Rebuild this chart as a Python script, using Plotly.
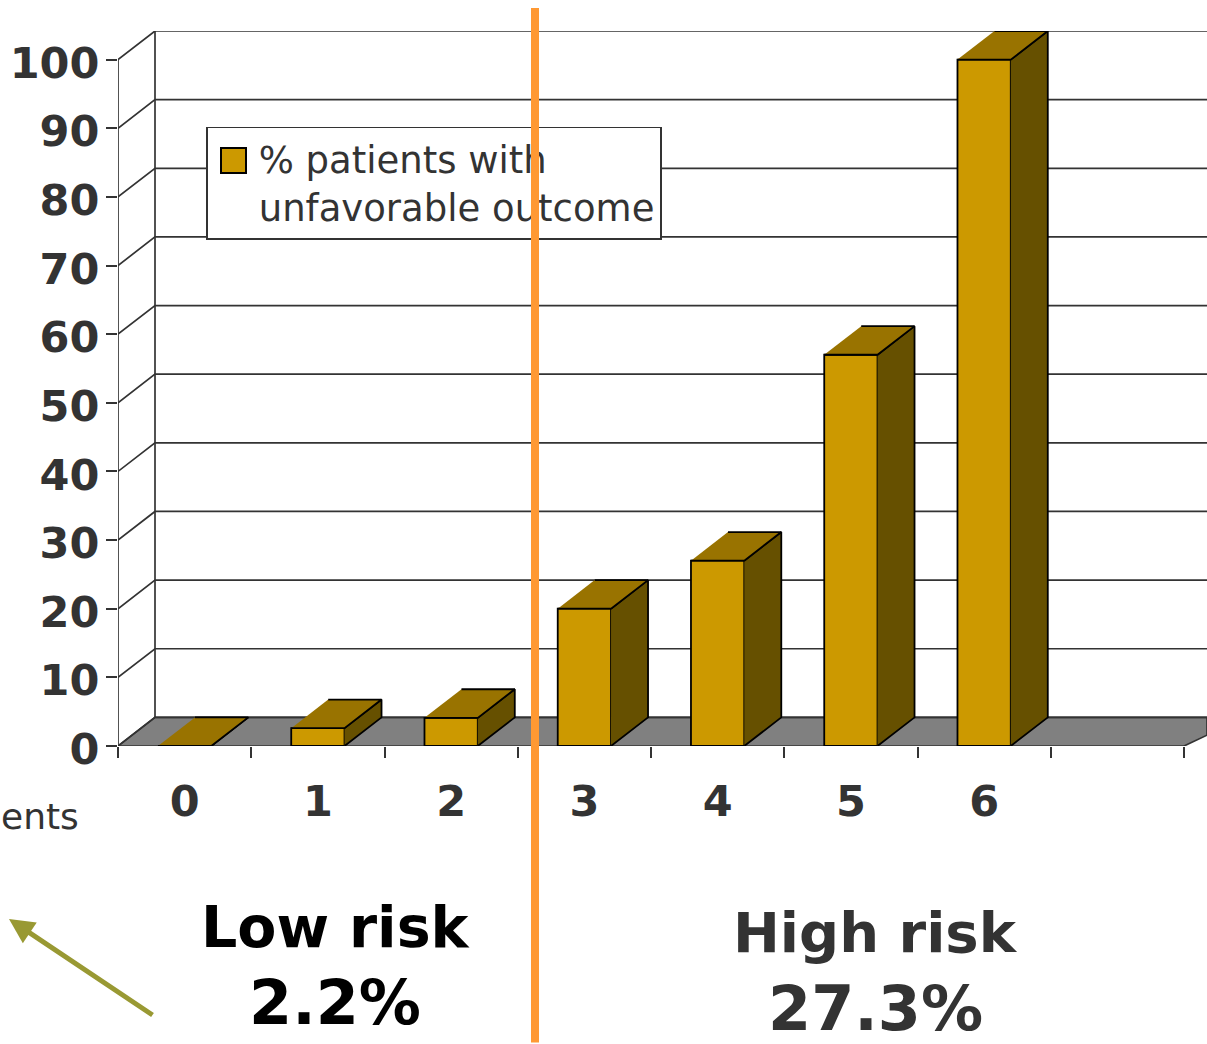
import plotly.graph_objects as go

# Data
categories = [0, 1, 2, 3, 4, 5, 6]
values = [0, 2.6, 4.1, 20, 27, 57, 100]
y_ticks = list(range(0, 101, 10))
series_name = "% patients with<br>unfavorable outcome"

FRONT, TOP, SIDE = "#CC9900", "#997300", "#665000"
INK = "#333333"
W, H = 1207, 1044
X0, X_UNIT = 118, 133.25   # pixel of axis start, pixels per category
Y0, Y_UNIT = 746, 6.86     # pixel of value 0, pixels per value unit
DX = 37 / X_UNIT           # depth offset in data units
DY = 28.6 / Y_UNIT
BAR = 0.4

x_lo = -0.5
x_hi = x_lo + (W - X0) / X_UNIT
y_top = 100 + DY
x_end = x_lo + 8

fig = go.Figure()

def poly(xs, ys, fill, line="black", lw=1.8, over=True):
    fig.add_trace(go.Scatter(x=xs, y=ys, mode="lines", fill="toself", fillcolor=fill,
                             line=dict(color=line, width=lw), showlegend=False, hoverinfo="skip",
                             cliponaxis=False,
                             xaxis="x2" if over else "x", yaxis="y2" if over else "y"))

def seg(xs, ys):
    fig.add_trace(go.Scatter(x=xs, y=ys, mode="lines", line=dict(color=INK, width=1.7),
                             showlegend=False, hoverinfo="skip", cliponaxis=False))

# Floor
poly([x_lo, x_lo + DX, x_hi, x_hi, x_end],
     [0, DY, DY, DY - (x_hi - x_end) / DX * DY, 0], "#808080", INK, 1.7, over=False)

# Walls and gridlines
for v in y_ticks:
    seg([x_lo, x_lo + DX, x_hi], [v, v + DY, v + DY])
seg([x_lo + DX, x_lo + DX], [DY, 100 + DY])
seg([x_lo, x_lo], [0, 100])
seg([x_lo, x_end], [0, 0])

# Bar fronts (overlay subplot so they sit above the walls)
fig.add_trace(go.Bar(x=categories, y=values, width=BAR, name=series_name, cliponaxis=False,
                     xaxis="x2", yaxis="y2",
                     marker=dict(color=FRONT, line=dict(color="black", width=1.8))))

# Bar depth faces
for c, v in zip(categories, values):
    l, r = c - BAR / 2, c + BAR / 2
    poly([r, r + DX, r + DX, r], [0, DY, v + DY, v], SIDE)
    poly([l, r, r + DX, l + DX], [v, v, v + DY, v + DY], TOP)

tick_font = dict(size=43, family="DejaVu Sans", weight="bold", color=INK)

fig.update_layout(
    width=W, height=H, autosize=False,
    margin=dict(l=X0, r=0, t=31, b=H - Y0),
    paper_bgcolor="white", plot_bgcolor="white",
    barmode="overlay",
    font=dict(family="DejaVu Sans", color=INK),
    xaxis=dict(range=[x_lo, x_hi], tickmode="array", tickvals=categories, ticks="",
               showgrid=False, zeroline=False, showline=False,
               tickfont=tick_font, ticklabelstandoff=26,
               minor=dict(tickmode="linear", tick0=-0.5, dtick=1, ticks="outside",
                          ticklen=11, tickcolor=INK, tickwidth=1.7, showgrid=False)),
    yaxis=dict(range=[0, y_top], tickmode="array", tickvals=y_ticks, ticks="outside",
               ticklen=11, tickcolor=INK, tickwidth=1.7,
               showgrid=False, zeroline=False, showline=False,
               tickfont=tick_font, ticklabelstandoff=-2, ticklabelshift=3),
    xaxis2=dict(range=[x_lo, x_hi], overlaying="x", visible=False),
    yaxis2=dict(range=[0, y_top], overlaying="y", visible=False),
    legend=dict(x=(206 - X0) / (W - X0), y=(746 - 126.5) / (746 - 31), xanchor="left", yanchor="top",
                bgcolor="white", bordercolor=INK, borderwidth=1.7, valign="top",
                itemwidth=41, entrywidth=408, entrywidthmode="pixels",
                font=dict(size=37, family="DejaVu Sans", color=INK)),
    showlegend=True,
)

def px(x):
    return (x - X0) / (W - X0)
def py(y):
    return (746 - y) / (746 - 31)

def note(text, x, y, size, color, bold=True):
    fig.add_annotation(xref="paper", yref="paper", x=px(x), y=py(y),
                       text=text, showarrow=False, xanchor="center", yanchor="middle",
                       font=dict(size=size, color=color, family="DejaVu Sans",
                                 weight="bold" if bold else "normal"))

note("Low risk", 335, 927, 57, "black")
note("2.2%", 335, 1002, 62, "black")
note("High risk", 875, 932, 56, INK)
note("27.3%", 875, 1008, 62, INK)
fig.add_annotation(xref="paper", yref="paper", x=px(81), y=py(816),
                   text="ents", showarrow=False, xanchor="right", yanchor="middle",
                   font=dict(size=36, color=INK, family="DejaVu Sans"))

# Large legend swatch
fig.add_annotation(xref="paper", yref="paper", x=px(233), y=py(160.5), xanchor="center", yanchor="middle",
                   text=" ", showarrow=False, width=23, height=23, bgcolor=FRONT,
                   bordercolor="black", borderwidth=2, borderpad=0, font=dict(size=8))

# Arrow
fig.add_annotation(xref="paper", yref="paper", axref="pixel", ayref="pixel",
                   x=px(9), y=py(919), ax=145, ay=97,
                   text="", showarrow=True, arrowhead=2, arrowsize=1, arrowwidth=5, arrowcolor="#999933")
# Orange divider
fig.add_annotation(xref="paper", yref="paper", axref="pixel", ayref="pixel",
                   x=px(535), y=py(8), ax=0, ay=1040,
                   text="", showarrow=True, arrowhead=0, arrowwidth=8, arrowcolor="#FF9933")

fig.write_html("out.html", config=dict(displayModeBar=False),
               post_script="document.body.style.margin='0';")
